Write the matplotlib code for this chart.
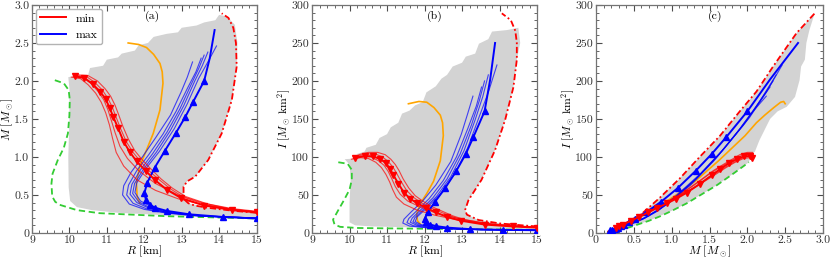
import matplotlib
matplotlib.use("Agg")
import matplotlib.pyplot as plt
from matplotlib.ticker import MultipleLocator, FuncFormatter

plt.rcParams['font.family'] = 'serif'
plt.rcParams['font.serif'] = ['cmr10']
plt.rcParams['mathtext.fontset'] = 'cm'
plt.rcParams['axes.formatter.use_mathtext'] = True
plt.rcParams['axes.unicode_minus'] = False

# --------------------------
# data
# --------------------------
# "max" family (blue), first curve is the marked one
max_R = [
    [15.0, 14.1, 13.2, 12.6, 12.3, 12.15, 12.05, 12.0, 12.08, 12.28, 12.55, 12.85, 13.1, 13.3, 13.6, 13.75, 13.88],
    [15.0, 13.5, 12.6, 12.0, 11.6, 11.42, 11.45, 11.65, 11.95, 12.3, 12.7, 12.98, 13.15, 13.29],
    [15.0, 13.5, 12.6, 12.1, 11.7, 11.53, 11.58, 11.8, 12.12, 12.5, 12.85, 13.15, 13.38, 13.52],
    [15.0, 13.5, 12.6, 12.15, 11.8, 11.62, 11.67, 11.9, 12.22, 12.6, 12.95, 13.25, 13.46, 13.6],
    [15.0, 13.5, 12.6, 12.2, 11.85, 11.69, 11.74, 11.98, 12.32, 12.7, 13.05, 13.35, 13.55, 13.7],
    [15.0, 13.5, 12.6, 12.25, 11.9, 11.75, 11.8, 12.05, 12.4, 12.8, 13.15, 13.45, 13.7, 13.93],
]
max_M = [
    [0.19, 0.21, 0.245, 0.29, 0.33, 0.37, 0.43, 0.52, 0.66, 0.86, 1.08, 1.32, 1.53, 1.72, 2.0, 2.3, 2.67],
    [0.195, 0.22, 0.26, 0.31, 0.38, 0.5, 0.62, 0.8, 1.0, 1.25, 1.55, 1.85, 2.05, 2.25],
    [0.195, 0.22, 0.265, 0.31, 0.39, 0.5, 0.63, 0.82, 1.03, 1.3, 1.6, 1.9, 2.12, 2.3],
    [0.195, 0.225, 0.27, 0.32, 0.4, 0.51, 0.64, 0.83, 1.04, 1.32, 1.63, 1.95, 2.17, 2.34],
    [0.195, 0.225, 0.27, 0.32, 0.41, 0.52, 0.65, 0.84, 1.06, 1.35, 1.67, 2.0, 2.2, 2.38],
    [0.195, 0.225, 0.27, 0.33, 0.42, 0.53, 0.66, 0.85, 1.07, 1.37, 1.7, 2.03, 2.25, 2.46],
]
max_I = [
    [3.5, 4, 5, 7, 9, 11, 14, 18, 27, 41, 59, 82, 104, 126, 160, 202, 250],
    [3.6, 4.3, 5.5, 7, 9, 13, 18, 28, 42, 63, 94, 130, 157, 180],
    [3.6, 4.3, 5.6, 7, 9.5, 13.5, 19, 29.5, 45, 69, 100, 137, 167, 192],
    [3.6, 4.4, 5.8, 7.5, 10, 14, 19.5, 30.5, 46, 71, 104, 142, 174, 200],
    [3.6, 4.4, 5.8, 7.5, 10.5, 14.5, 20, 31.5, 48, 74, 108, 149, 179, 208],
    [3.6, 4.4, 5.8, 8, 11, 15, 21, 32.5, 50, 77, 112, 152, 185, 221],
]

# "min" family (red), first curve is the marked one
min_R = [
    [10.15, 10.4, 10.62, 10.82, 10.97, 11.08, 11.17, 11.3, 11.45, 11.62, 11.8, 12.05, 12.3, 12.6, 12.98, 13.6, 14.35, 15.0],
    [10.05, 10.3, 10.5, 10.7, 10.85, 10.97, 11.07, 11.15, 11.25, 11.45, 11.8, 12.3, 12.9, 13.6, 14.35, 15.0],
    [10.1, 10.35, 10.57, 10.77, 10.92, 11.03, 11.12, 11.22, 11.35, 11.55, 11.85, 12.3, 12.9, 13.6, 14.35, 15.0],
    [10.2, 10.45, 10.68, 10.88, 11.03, 11.15, 11.25, 11.37, 11.52, 11.7, 11.9, 12.12, 12.4, 12.7, 13.05, 13.65, 14.35, 15.0],
    [10.25, 10.5, 10.75, 10.95, 11.1, 11.22, 11.32, 11.43, 11.58, 11.75, 11.95, 12.18, 12.45, 12.75, 13.1, 13.7, 14.35, 15.0],
]
min_M = [
    [2.06, 2.04, 1.96, 1.86, 1.76, 1.64, 1.53, 1.38, 1.2, 1.06, 0.94, 0.81, 0.69, 0.57, 0.46, 0.36, 0.30, 0.27],
    [2.05, 2.03, 1.95, 1.84, 1.72, 1.58, 1.42, 1.25, 1.06, 0.88, 0.7, 0.56, 0.45, 0.37, 0.31, 0.28],
    [2.06, 2.05, 1.97, 1.86, 1.75, 1.62, 1.48, 1.32, 1.14, 0.98, 0.82, 0.65, 0.5, 0.39, 0.32, 0.285],
    [2.07, 2.06, 1.98, 1.88, 1.77, 1.65, 1.52, 1.37, 1.2, 1.06, 0.94, 0.82, 0.7, 0.58, 0.47, 0.37, 0.31, 0.275],
    [2.08, 2.07, 2.0, 1.9, 1.8, 1.68, 1.55, 1.4, 1.23, 1.08, 0.96, 0.84, 0.71, 0.59, 0.48, 0.38, 0.31, 0.275],
]
min_I = [
    [99, 101, 101, 97, 92, 84, 76, 65, 53, 45, 39, 33, 27, 21, 16, 11, 8.5, 7],
    [97, 99, 98, 93, 86, 77, 67, 57, 47, 38, 30, 23, 17, 12, 9, 7.5],
    [98, 101, 100, 95, 89, 81, 72, 61, 51, 42, 35, 26, 19, 13, 9.5, 7.5],
    [101, 104, 104, 100, 94, 87, 79, 68, 56, 47, 40, 34, 28, 22, 16.5, 11.5, 9, 7],
    [103, 106, 106, 103, 97, 90, 82, 71, 59, 49, 42, 35, 29, 22.5, 17, 12, 9, 7],
]

# orange curve
orange_R = [11.88, 11.81, 11.79, 11.88, 12.06, 12.24, 12.42, 12.5, 12.48, 12.42, 12.25, 12.06, 11.85, 11.57]
orange_M = [0.39, 0.48, 0.66, 0.88, 1.09, 1.31, 1.62, 1.97, 2.12, 2.23, 2.35, 2.44, 2.48, 2.5]
orange_I = [12, 16, 25, 38, 52, 68, 95, 128, 145, 155, 165, 172, 173, 170]

# green dashed bound
green_a_R = [9.61, 9.85, 9.98, 10.01, 10.0, 9.96, 9.85, 9.69, 9.55, 9.52, 9.54, 9.62, 9.74, 10.2, 10.8, 12.6, 15.0]
green_a_M = [2.01, 1.97, 1.88, 1.75, 1.55, 1.31, 1.12, 0.96, 0.78, 0.65, 0.48, 0.41, 0.37, 0.3, 0.26, 0.22, 0.19]
green_b_R = [9.7, 9.95, 10.06, 10.06, 10.0, 9.85, 9.7, 9.56, 9.6, 9.75, 10.2, 11.0, 12.0, 13.0, 14.0, 15.0]
green_b_I = [93, 91, 83, 70, 57, 43, 30, 17.5, 11, 8, 6.5, 6, 5.5, 5, 4.5, 4]
green_c_M = [0.15, 0.25, 0.4, 0.55, 0.7, 0.85, 1.0, 1.2, 1.4, 1.6, 1.8, 2.02]
green_c_I = [1, 3, 6, 11, 16, 22, 29, 39, 51, 63, 77, 93]

# red dash-dot bound
dash_a_R = [15.0, 14.4, 13.71, 13.35, 13.18, 13.07, 13.05, 13.05, 13.15, 13.36, 13.71, 14.07, 14.34, 14.47, 14.45, 14.38, 14.25, 14.07]
dash_a_M = [0.265, 0.29, 0.33, 0.36, 0.39, 0.44, 0.48, 0.61, 0.68, 0.74, 0.96, 1.31, 1.75, 2.19, 2.5, 2.7, 2.83, 2.89]
dash_b_R = [15.0, 14.6, 14.0, 13.44, 13.13, 13.08, 13.17, 13.52, 13.88, 14.15, 14.37, 14.46, 14.46, 14.42, 14.3, 14.06]
dash_b_I = [8.5, 10, 12.5, 17, 24, 30, 43, 70, 109, 149, 192, 228, 250, 266, 280, 289]
dash_c_M = [0.15, 0.3, 0.45, 0.58, 0.84, 1.11, 1.37, 1.64, 1.9, 2.12, 2.34, 2.65, 2.89]
dash_c_I = [1.5, 7, 14, 23, 46, 72, 100, 128, 160, 186, 219, 263, 289]

# grey bands (outline vertices)
band_a = [(15.0, 0.2), (13.5, 0.215), (12.5, 0.235), (11.3, 0.265), (10.6, 0.3), (10.2, 0.34),
          (10.02, 0.42), (9.98, 0.6), (9.97, 1.0), (10.0, 1.5), (10.0, 1.9), (9.97, 2.05),
          (10.2, 2.07), (10.5, 2.08), (10.55, 2.17), (10.9, 2.2), (11.0, 2.28), (11.3, 2.31),
          (11.4, 2.36), (11.75, 2.4), (11.85, 2.47), (12.1, 2.5), (12.25, 2.58), (12.6, 2.62),
          (12.9, 2.64), (13.0, 2.7), (13.4, 2.73), (13.6, 2.77), (13.9, 2.8), (14.0, 2.87),
          (14.2, 2.85), (14.42, 2.74), (14.49, 2.5), (14.47, 2.19), (14.34, 1.75), (14.07, 1.31),
          (13.71, 0.96), (13.36, 0.74), (13.15, 0.68), (13.05, 0.61), (13.05, 0.48), (13.07, 0.44),
          (13.18, 0.39), (13.71, 0.33), (14.4, 0.29), (15.0, 0.265)]
band_b = [(15.0, 4.5), (13.5, 5.5), (12.5, 6.5), (11.5, 7.5), (10.6, 8.5), (10.15, 10), (10.0, 14),
          (10.0, 40), (10.03, 70), (10.0, 90), (9.87, 97), (10.15, 98), (10.2, 104), (10.4, 107),
          (10.45, 112), (10.7, 116), (10.8, 125), (11.0, 130), (11.1, 139), (11.3, 145), (11.4, 157),
          (11.6, 161), (11.75, 168), (11.95, 172), (12.05, 185), (12.3, 193), (12.45, 203),
          (12.6, 208), (12.75, 219), (13.0, 224), (13.1, 232), (13.35, 236), (13.45, 249),
          (13.7, 255), (13.8, 265), (14.2, 267), (14.5, 270), (14.55, 250), (14.46, 228),
          (14.37, 192), (14.15, 149), (13.88, 109), (13.52, 70), (13.17, 43), (13.08, 30),
          (13.13, 24), (13.44, 17), (14.0, 12.5), (14.6, 10), (15.0, 8.5)]
band_c = [(0.12, 0), (0.3, 7), (0.45, 14), (0.58, 23), (0.84, 46), (1.11, 72), (1.37, 100),
          (1.64, 128), (1.9, 160), (2.12, 186), (2.34, 219), (2.65, 263), (2.89, 289), (2.82, 267),
          (2.78, 250), (2.76, 228), (2.71, 219), (2.69, 201), (2.63, 179), (2.52, 166), (2.4, 160),
          (2.3, 150), (2.25, 140), (2.16, 122), (2.1, 107), (2.05, 103), (2.02, 93), (1.8, 77),
          (1.6, 63), (1.4, 51), (1.2, 39), (1.0, 29), (0.7, 16), (0.4, 6), (0.2, 1.5)]

GREY = '#d3d3d3'
GREEN = '#33cc33'
DASHDOT = (0, (3.5, 1.5, 1, 1.5))
DASHED = (0, (3.5, 2))
FS = 8.5


def int_fmt(v, pos):
    return '%d' % round(v)


def dec_fmt(v, pos):
    return '0' if abs(v) < 1e-9 else '%.1f' % v


def style(ax, xmaj, xmin, ymaj, ymin, xf, yf):
    ax.xaxis.set_major_locator(MultipleLocator(xmaj))
    ax.xaxis.set_minor_locator(MultipleLocator(xmin))
    ax.yaxis.set_major_locator(MultipleLocator(ymaj))
    ax.yaxis.set_minor_locator(MultipleLocator(ymin))
    ax.xaxis.set_major_formatter(FuncFormatter(xf))
    ax.yaxis.set_major_formatter(FuncFormatter(yf))
    ax.tick_params(which='both', direction='in', top=True, right=True,
                   labelsize=FS, colors='0.3', labelcolor='0.2', pad=2)
    ax.tick_params(which='major', length=4, width=0.8)
    ax.tick_params(which='minor', length=2, width=0.6)
    for s in ax.spines.values():
        s.set_color('0.45')
        s.set_linewidth(0.9)


def draw_family(ax, xs, ys, color, marker, nmark):
    for k in range(len(xs) - 1, -1, -1):
        if k == 0:
            ax.plot(xs[k], ys[k], color=color, lw=1.4, marker=marker, ms=4,
                    markevery=slice(0, nmark), zorder=4)
        else:
            ax.plot(xs[k], ys[k], color=color, lw=0.8, alpha=0.7, zorder=3)


fig = plt.figure(figsize=(8.31, 2.62), dpi=100)
ax1 = fig.add_axes([0.0385, 0.111, 0.2702, 0.870])
ax2 = fig.add_axes([0.3755, 0.111, 0.2708, 0.870])
ax3 = fig.add_axes([0.7172, 0.111, 0.2732, 0.870])

# --------------------------
# (a) M-R
# --------------------------
ax1.fill([p[0] for p in band_a], [p[1] for p in band_a], color=GREY, lw=0, zorder=1)
ax1.plot(green_a_R, green_a_M, linestyle=DASHED, color=GREEN, lw=1.3, zorder=2)
ax1.plot(dash_a_R, dash_a_M, linestyle=DASHDOT, color='red', lw=1.3, zorder=2)
ax1.plot(orange_R, orange_M, color='orange', lw=1.2, zorder=3)
draw_family(ax1, max_R, max_M, 'blue', '^', 15)
draw_family(ax1, min_R, min_M, 'red', 'v', 18)
ax1.plot([], [], color='red', lw=1.4, label='min')
ax1.plot([], [], color='blue', lw=1.4, label='max')
ax1.legend(loc='upper left', fontsize=FS, handlelength=2.2, borderaxespad=0.3,
           edgecolor='0.7', framealpha=1)
ax1.set_xlim(9, 15)
ax1.set_ylim(0, 3)
style(ax1, 1, 0.2, 0.5, 0.1, int_fmt, dec_fmt)
ax1.set_xlabel(r'$R$ [km]', fontsize=FS, labelpad=-1)
ax1.set_ylabel(r'$M\ [M_\odot]$', fontsize=FS, labelpad=-1)
ax1.text(0.535, 0.95, '(a)', transform=ax1.transAxes, ha='center', va='center', fontsize=FS)

# --------------------------
# (b) I-R
# --------------------------
ax2.fill([p[0] for p in band_b], [p[1] for p in band_b], color=GREY, lw=0, zorder=1)
ax2.plot(green_b_R, green_b_I, linestyle=DASHED, color=GREEN, lw=1.3, zorder=2)
ax2.plot(dash_b_R, dash_b_I, linestyle=DASHDOT, color='red', lw=1.3, zorder=2)
ax2.plot(orange_R, orange_I, color='orange', lw=1.2, zorder=3)
draw_family(ax2, max_R, max_I, 'blue', '^', 15)
draw_family(ax2, min_R, min_I, 'red', 'v', 18)
ax2.set_xlim(9, 15)
ax2.set_ylim(0, 300)
style(ax2, 1, 0.2, 50, 10, int_fmt, int_fmt)
ax2.set_xlabel(r'$R$ [km]', fontsize=FS, labelpad=-1)
ax2.set_ylabel(r'$I\ [M_\odot\,\mathrm{km}^2]$', fontsize=FS, labelpad=-1)
ax2.text(0.545, 0.95, '(b)', transform=ax2.transAxes, ha='center', va='center', fontsize=FS)

# --------------------------
# (c) I-M
# --------------------------
ax3.fill([p[0] for p in band_c], [p[1] for p in band_c], color=GREY, lw=0, zorder=1)
ax3.plot(green_c_M, green_c_I, linestyle=DASHED, color=GREEN, lw=1.3, zorder=2)
ax3.plot(dash_c_M, dash_c_I, linestyle=DASHDOT, color='red', lw=1.3, zorder=2)
ax3.plot(orange_M, orange_I, color='orange', lw=1.2, zorder=3)
draw_family(ax3, max_M, max_I, 'blue', '^', 15)
draw_family(ax3, min_M, min_I, 'red', 'v', 18)
ax3.set_xlim(0, 3)
ax3.set_ylim(0, 300)
style(ax3, 0.5, 0.1, 50, 10, dec_fmt, int_fmt)
ax3.set_xlabel(r'$M\ [M_\odot]$', fontsize=FS, labelpad=-1)
ax3.set_ylabel(r'$I\ [M_\odot\,\mathrm{km}^2]$', fontsize=FS, labelpad=-1)
ax3.text(0.525, 0.95, '(c)', transform=ax3.transAxes, ha='center', va='center', fontsize=FS)

fig.savefig('out.png', dpi=100)
